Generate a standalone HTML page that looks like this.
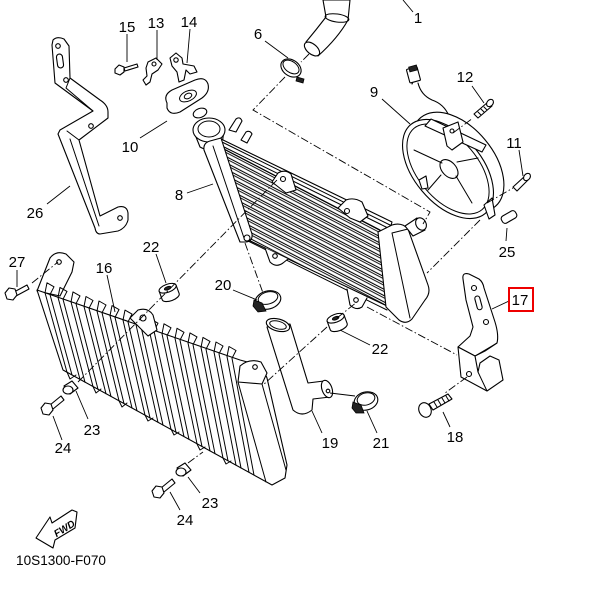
<!DOCTYPE html>
<html><head><meta charset="utf-8"><style>
html,body{margin:0;padding:0;background:#fff;}
svg{display:block;}
text{font-family:"Liberation Sans",Arial,sans-serif;font-size:15px;fill:#000;text-anchor:middle;}
.s{fill:#fff;stroke:#000;stroke-width:1.1;stroke-linejoin:round;stroke-linecap:round;}
.l{fill:none;stroke:#000;stroke-width:1;stroke-linejoin:round;stroke-linecap:round;}
.k{fill:none;stroke:#000;stroke-width:0.9;}
.d{fill:none;stroke:#000;stroke-width:0.9;stroke-dasharray:8 2.5 1.5 2.5;}
.b{fill:#222;stroke:#000;stroke-width:0.8;}
</style></head><body>
<svg width="600" height="600" viewBox="0 0 600 600" xmlns="http://www.w3.org/2000/svg">
<defs>
<pattern id="fins" patternUnits="userSpaceOnUse" width="20" height="5.6" patternTransform="rotate(27.5)">
<rect width="20" height="5.6" fill="#fff"/>
<line x1="0" y1="0.9" x2="20" y2="0.9" stroke="#000" stroke-width="1"/>
<line x1="0" y1="2.9" x2="20" y2="2.9" stroke="#000" stroke-width="1"/>
</pattern>
</defs>

<!-- Hose 1 -->
<path class="s" d="M323,0 L326,17 Q316,30 306,42 L318,56 Q338,38 348,20 L350,0 Z"/>
<ellipse class="l" cx="337" cy="18" rx="12" ry="4" transform="rotate(8 337 18)"/>
<ellipse class="s" cx="312" cy="49" rx="9" ry="5" transform="rotate(40 312 49)"/>

<!-- Clamp 6 -->
<ellipse class="s" cx="291" cy="68" rx="11" ry="8" transform="rotate(35 291 68)"/>
<ellipse class="l" cx="291" cy="67" rx="9" ry="5.5" transform="rotate(35 291 67)"/>
<path class="b" d="M297,77 L304,79 L303,83 L296,81 Z"/>

<!-- Bolt 15, clips 13, 14 -->
<path class="s" d="M124,68 L137,64 L138,67 L125,71 Z"/>
<path class="s" d="M115,69 L119,65 L124,67 L124,72 L120,75 L115,73 Z"/>
<path class="s" d="M148,62 L156,58 L162,64 L158,70 L152,74 L150,82 L146,85 L143,80 L147,76 L146,68 Z"/>
<circle class="s" cx="154" cy="64" r="2"/>
<path class="s" d="M170,58 L176,53 L182,58 L183,64 L194,66 L197,72 L190,74 L186,70 L184,80 L179,82 L177,72 L172,66 Z"/>
<circle class="s" cx="176" cy="60" r="2.2"/>

<!-- Cap 10 -->
<ellipse class="s" cx="200" cy="113" rx="7" ry="4.5" transform="rotate(-20 200 113)"/>
<path class="s" d="M167,103 Q163,95 172,90 L195,80 Q205,76 208,84 Q210,92 202,98 L180,112 Q170,116 167,108 Z"/>
<ellipse class="l" cx="188" cy="96" rx="9" ry="5" transform="rotate(-25 188 96)"/>
<ellipse class="l" cx="188" cy="96" rx="4" ry="2.5" transform="rotate(-25 188 96)"/>

<!-- Bracket 26 -->
<path class="s" d="M53,40 Q57,36 64,39 L69,46 L70,78 L100,100 Q108,105 108,112 L108,118 L79,140 L100,216 L118,207 Q127,205 128,213 L128,220 Q126,228 118,231 L100,234 Q96,234 95,228 L58,134 L60,130 L93,111 L55,83 L52,45 Z"/>
<path class="l" d="M70,78 L66,88 L93,111 M79,140 L67,131 M70,139 L99,226"/>
<rect class="s" x="57" y="54" width="6" height="14" rx="3" transform="rotate(-8 60 61)"/>
<circle class="s" cx="58" cy="46" r="2.3"/>
<circle class="s" cx="66" cy="80" r="2.3"/>
<circle class="s" cx="91" cy="126" r="2.3"/>
<circle class="s" cx="120" cy="218" r="2.3"/>

<!-- Radiator 8 -->
<path class="s" d="M194,132 L200,147 Q210,153 222,145 L224,130"/>
<ellipse class="s" cx="209" cy="130" rx="16" ry="12"/>
<ellipse class="l" cx="209" cy="129" rx="11" ry="8"/>
<path class="s" d="M229,130 L236,119 Q240,116 242,121 L236,132 Z"/>
<path class="s" d="M241,140 L246,132 Q250,130 252,134 L247,143 Z"/>
<path d="M222,148 L380,230 L387,306 L244,238 Z" fill="url(#fins)" stroke="#000" stroke-width="1.1"/>
<path class="s" d="M221,139 L392,222 L390,229 L222,146 Z"/>
<path class="l" d="M223,142.5 L391,225.5"/>
<path class="l" d="M244,239 L387,310"/>
<path class="s" d="M204,150 Q203,143 210,141 L221,138 L252,234 Q253,241 246,242 L240,242 Z"/>
<path class="l" d="M213,146 L244,238"/>
<circle class="s" cx="247" cy="238" r="3"/>
<path class="s" d="M378,232 L392,225 Q402,222 408,229 L428,285 Q431,293 425,300 L412,319 Q406,325 399,320 L386,307 Z"/>
<path class="l" d="M392,233 L410,318 M392,233 L408,229"/>
<path class="s" d="M405,226 L417,218 L425,230 L413,236 Z"/>
<ellipse class="s" cx="421" cy="224" rx="5" ry="6.5" transform="rotate(-30 421 224)"/>
<path class="s" d="M272,182 L278,173 Q285,169 291,174 L296,190 L286,193 Z"/>
<circle class="s" cx="283" cy="179" r="2.5"/>
<path class="s" d="M338,208 L346,200 Q354,197 362,202 L368,216 L360,222 L350,218 Z"/>
<circle class="s" cx="347" cy="211" r="2.5"/>
<path class="s" d="M265,248 L270,262 Q276,268 283,263 L288,259"/>
<path class="s" d="M347,289 L350,305 Q356,311 362,307 L367,298"/>
<circle class="s" cx="356" cy="300" r="2.3"/>
<circle class="s" cx="275" cy="256" r="2.3"/>

<!-- Fan 9 -->
<path class="s" d="M417,73 L412,84 M418,83 Q421,95 432,100 Q444,104 449,116" fill="none"/>
<rect class="s" x="408" y="68" width="11" height="14" rx="1" transform="rotate(-15 413 75)"/>
<rect class="b" x="409" y="66" width="8" height="5" transform="rotate(-15 413 68)"/>
<ellipse class="s" cx="458" cy="162" rx="58" ry="35" transform="rotate(50 458 162)"/>
<ellipse class="s" cx="448" cy="169" rx="58" ry="34" transform="rotate(50 448 169)"/>
<ellipse class="l" cx="448" cy="169" rx="53" ry="30" transform="rotate(50 448 169)"/>
<path class="s" d="M425,126 L482,152 L486,145 L431,119 Z"/>
<path class="s" d="M443,128 L458,122 L463,142 L452,150 L447,146 Z"/>
<circle class="s" cx="452" cy="131" r="2"/>
<ellipse class="s" cx="449" cy="169" rx="11" ry="7" transform="rotate(48 449 169)"/>
<path class="l" d="M442,163 L414,150 M456,176 L472,203 M441,175 L428,190 M457,162 L478,158"/>
<path class="s" d="M484,205 L492,198 L495,215 L489,219 Z"/>
<path class="s" d="M419,180 L426,176 L428,188 L422,189 Z"/>

<!-- Screws 12, 11, plug 25 -->
<path class="s" d="M474,114 L488,102 L492,106 L478,118 Z"/>
<path class="l" d="M478,112 L481,115 M481,109 L484,112 M484,107 L487,110"/>
<ellipse class="s" cx="490" cy="103" rx="3" ry="4" transform="rotate(40 490 103)"/>
<path class="s" d="M513,187 L525,176 L528,180 L517,191 Z"/>
<ellipse class="s" cx="527" cy="177" rx="3" ry="4" transform="rotate(40 527 177)"/>
<rect class="s" x="501" y="213" width="16" height="8" rx="3" transform="rotate(-30 509 217)"/>

<!-- Louver panel 16 -->
<path class="s" d="M37,291 L50,258 Q56,250 66,254 L74,262 L72,272 L60,296 Z"/>
<circle class="s" cx="59" cy="262" r="2.3"/>
<path class="s" d="M37,290 L240,360 L262,366 L267,378 L287,465 L285,478 L272,485 L63,370 Z"/>
<path class="s" d="M238,382 L240,366 Q249,358 261,362 L267,373 L262,384 Z"/>
<circle class="s" cx="255" cy="367" r="2.3"/>
<path class="l" d="M238,382 L266,482 M262,384 L286,470"/>
<path class="l" d="M45,292.8 L67,372.2 M50,294.6 L72,375 M45,292.8 L47,282.8 L54,286.8 L50,294.6
M58,297.4 L80,379.4 M63,299.2 L85,382.2 M58,297.4 L60,287.4 L67,291.4 L63,299.2
M71,301.9 L93,386.5 M76,303.7 L98,389.3 M71,301.9 L73,291.9 L80,295.9 L76,303.7
M84,306.5 L106,393.7 M89,308.3 L111,396.5 M84,306.5 L86,296.5 L93,300.5 L89,308.3
M97,311 L119,400.8 M102,312.8 L124,403.6 M97,311 L99,301 L106,305 L102,312.8
M110,315.6 L132,408 M115,317.4 L137,410.8 M110,315.6 L112,305.6 L119,309.6 L115,317.4
M123,320.1 L145,415.1 M128,321.9 L150,417.9 M123,320.1 L125,310.1 L132,314.1 L128,321.9
M136,324.7 L158,422.3 M141,326.5 L163,425.1 M136,324.7 L138,314.7 L145,318.7 L141,326.5
M149,329.2 L171,429.4 M154,331 L176,432.2 M149,329.2 L151,319.2 L158,323.2 L154,331
M162,333.8 L184,436.6 M167,335.6 L189,439.4 M162,333.8 L164,323.8 L171,327.8 L167,335.6
M175,338.3 L197,443.7 M180,340.1 L202,446.5 M175,338.3 L177,328.3 L184,332.3 L180,340.1
M188,342.9 L210,450.9 M193,344.7 L215,453.7 M188,342.9 L190,332.9 L197,336.9 L193,344.7
M201,347.4 L223,458 M206,349.2 L228,460.8 M201,347.4 L203,337.4 L210,341.4 L206,349.2
M214,352 L236,465.2 M219,353.8 L241,468 M214,352 L216,342 L223,346 L219,353.8
M227,356.5 L249,472.3 M232,358.3 L254,475.1 M227,356.5 L229,346.5 L236,350.5 L232,358.3"/>
<path class="l" d="M67,372 L70,379 L76,375 M93,386.5 L96,393 L101,389 M119,400.8 L122,407 L127,403 M145,415 L148,421 L153,418 M171,429 L174,435 L179,432 M197,444 L200,450 L205,447 M223,458 L226,464 L231,461"/>
<path class="s" d="M130,318 L138,310 Q148,307 153,315 L157,330 L148,336 Z"/>
<circle class="s" cx="143" cy="318" r="3"/>

<!-- Grommets 22 -->
<g transform="rotate(-20 169 292)">
<path class="s" d="M160,288 L160,297 A9,4 0 0 0 178,297 L178,288"/>
<ellipse class="s" cx="169" cy="288" rx="9" ry="4"/>
<ellipse class="b" cx="169" cy="288" rx="3.5" ry="1.6"/>
</g>
<g transform="rotate(-20 337 322)">
<path class="s" d="M328,318 L328,327 A9,4 0 0 0 346,327 L346,318"/>
<ellipse class="s" cx="337" cy="318" rx="9" ry="4"/>
<ellipse class="b" cx="337" cy="318" rx="3.5" ry="1.6"/>
</g>

<!-- Pipe 19 -->
<path class="s" d="M267,327 L293,410 Q302,418 312,410 L313,399 L330,397 L324,381 L308,383 L290,324 Z"/>
<ellipse class="s" cx="278" cy="325" rx="12" ry="6" transform="rotate(15 278 325)"/>
<ellipse class="l" cx="278" cy="325" rx="8.5" ry="3.8" transform="rotate(15 278 325)"/>
<ellipse class="s" cx="327" cy="389" rx="5" ry="9" transform="rotate(-20 327 389)"/>
<circle class="s" cx="328" cy="391" r="1.8"/>

<!-- Clamp 20 -->
<ellipse class="s" cx="268" cy="300" rx="13" ry="9" transform="rotate(-15 268 300)"/>
<ellipse class="l" cx="268" cy="298" rx="10" ry="6" transform="rotate(-15 268 298)"/>
<path class="b" d="M254,300 L262,303 L266,311 L258,312 L253,306 Z"/>

<!-- Clamp 21 -->
<ellipse class="s" cx="366" cy="401" rx="12" ry="9" transform="rotate(-15 366 401)"/>
<ellipse class="l" cx="366" cy="399" rx="9" ry="6" transform="rotate(-15 366 399)"/>
<path class="b" d="M353,402 L361,405 L364,413 L356,413 L352,408 Z"/>

<!-- Bracket 17 -->
<path class="s" d="M463,279 Q462,272 469,274 L479,279 Q483,282 484,288 L495,322 Q499,335 497,343 L485,351 L475,356 L458,347 L470,336 L473,327 L466,300 Z"/>
<path class="s" d="M458,347 L461,377 L487,391 L503,380 L499,360 L490,356 L480,363 L478,372 L475,356 Z"/>
<path class="l" d="M475,356 L497,343 M478,372 L487,391"/>
<circle class="s" cx="474" cy="288" r="2.5"/>
<rect class="s" x="476" y="296" width="5" height="14" rx="2.5" transform="rotate(-15 478 303)"/>
<circle class="s" cx="486" cy="322" r="2.5"/>
<circle class="s" cx="469" cy="374" r="2.5"/>

<!-- Screw 18 -->
<path class="s" d="M429,404 L448,394 L452,399 L433,410 Z"/>
<path class="l" d="M434,402 L437,407 M438,400 L441,405 M442,398 L445,403 M446,396 L449,401"/>
<ellipse class="s" cx="425" cy="410" rx="6" ry="7.5" transform="rotate(-25 425 410)"/>

<!-- Bolt 27 -->
<path class="s" d="M14,292 L27,285 L29,289 L16,296 Z"/>
<path class="s" d="M5,293 L9,288 L15,289 L17,295 L13,300 L7,299 Z"/>

<!-- Collars 23, bolts 24 -->
<path class="s" d="M64,386 L72,381 L78,388 L70,394 Z"/>
<ellipse class="s" cx="68" cy="390" rx="5" ry="4"/>
<path class="s" d="M50,405 L61,396 L64,400 L53,409 Z"/>
<path class="s" d="M41,408 L45,403 L51,404 L53,410 L49,415 L43,414 Z"/>
<path class="s" d="M177,468 L185,463 L191,470 L183,476 Z"/>
<ellipse class="s" cx="181" cy="472" rx="5" ry="4"/>
<path class="s" d="M161,488 L172,479 L175,483 L164,492 Z"/>
<path class="s" d="M152,491 L156,486 L162,487 L164,493 L160,498 L154,497 Z"/>

<!-- chain lines -->
<path class="d" d="M285,77 L253,110 L430,212 L423,224"/>
<path class="d" d="M480,220 L427,273"/>
<path class="d" d="M453,133 L473,118"/>
<path class="d" d="M487,203 L513,188"/>
<path class="d" d="M32,283 L58,262"/>
<path class="d" d="M78,382 L277,180"/>
<path class="d" d="M245,243 L263,293"/>
<path class="d" d="M327,327 L263,385"/>
<path class="d" d="M337,318 L357,302"/>
<path class="d" d="M367,307 L457,355"/>
<path class="d" d="M467,377 L445,393"/>
<path class="d" d="M188,463 L203,452"/>
<path class="d" d="M309,54 L301,62"/>

<!-- leaders -->
<path class="k" d="M403,0 L413,12 M127,34 L127,62 M157,30 L157,60 M190,29 L187,63 M265,41 L288,58 M472,86 L484,103 M382,99 L410,124 M140,138 L167,121 M519,150 L523,176 M187,193 L213,184 M47,204 L70,186 M506,241 L507,228 M156,254 L166,283 M17,270 L17,287 M107,275 L115,312 M233,290 L257,300 M509,301 L492,309 M370,345 L340,330 M88,419 L76,391 M62,440 L53,416 M322,433 L312,411 M377,433 L367,411 M450,427 L443,412 M200,493 L188,477 M180,510 L170,492 M330,393 L355,396"/>

<!-- labels -->
<text x="418" y="23">1</text>
<text x="127" y="32">15</text>
<text x="156" y="28">13</text>
<text x="189" y="27">14</text>
<text x="258" y="39">6</text>
<text x="465" y="82">12</text>
<text x="374" y="97">9</text>
<text x="130" y="152">10</text>
<text x="514" y="148">11</text>
<text x="179" y="200">8</text>
<text x="35" y="218">26</text>
<text x="507" y="257">25</text>
<text x="151" y="252">22</text>
<text x="17" y="267">27</text>
<text x="104" y="273">16</text>
<text x="223" y="290">20</text>
<rect x="509" y="288" width="24" height="23" fill="none" stroke="#e00" stroke-width="2"/>
<text x="520" y="305">17</text>
<text x="380" y="354">22</text>
<text x="92" y="435">23</text>
<text x="63" y="453">24</text>
<text x="330" y="448">19</text>
<text x="381" y="448">21</text>
<text x="455" y="442">18</text>
<text x="210" y="508">23</text>
<text x="185" y="525">24</text>

<!-- FWD -->
<polygon class="s" points="36,538 50,517 52,523 72,510 77,512 75,528 55,540 53,548"/>
<text x="64" y="532" transform="rotate(-32 64 528)" style="font-size:10px;font-weight:bold;font-style:italic;">FWD</text>

<text x="61" y="565" style="font-size:13.6px;">10S1300-F070</text>
</svg>
</body></html>
